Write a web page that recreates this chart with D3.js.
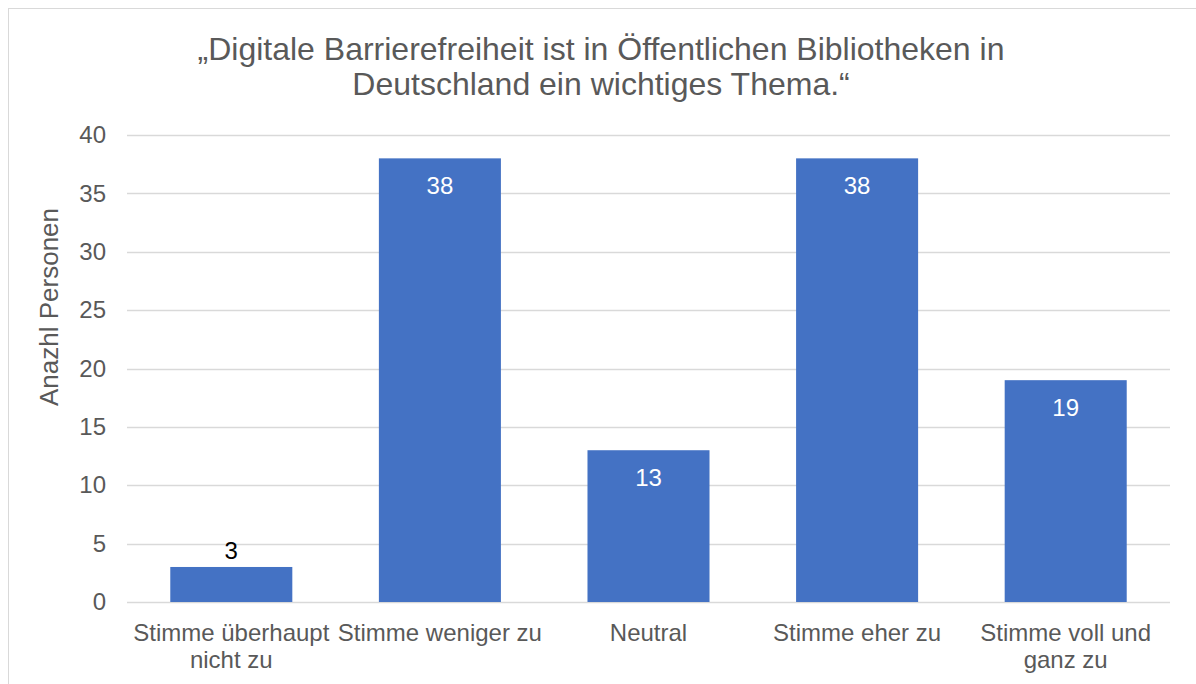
<!DOCTYPE html>
<html>
<head>
<meta charset="utf-8">
<script src="https://cdnjs.cloudflare.com/ajax/libs/d3/7.8.5/d3.min.js"></script>
<style>
  body { margin: 0; background: #fff; }
  svg { display: block; font-family: "Liberation Sans", Arial, sans-serif; }
</style>
</head>
<body>
<svg id="chart" width="1196" height="684"></svg>
<script>
const titleLines = ['„Digitale Barrierefreiheit ist in Öffentlichen Bibliotheken in', 'Deutschland ein wichtiges Thema.“'];
const categories = ['Stimme überhaupt nicht zu', 'Stimme weniger zu', 'Neutral', 'Stimme eher zu', 'Stimme voll und ganz zu'];
const values = [3, 38, 13, 38, 19];
const yTicks = [0, 5, 10, 15, 20, 25, 30, 35, 40];
const yTitle = 'Anazhl Personen';

const MARGIN = { top: 135, bottom: 82, left: 127, right: 26 };
const W = 1196, H = 684;
const GRAY = '#595959';
const BLUE = '#4472C4';
const FONT = 24;

const svg = d3.select('#chart');

// chart frame
svg.append('rect')
    .attr('x', 8.5).attr('y', 8.5)
    .attr('width', W).attr('height', H)
    .attr('fill', 'none').attr('stroke', '#d9d9d9');

const x = d3.scaleBand()
    .domain(categories)
    .range([MARGIN.left, W - MARGIN.right])
    .paddingInner(0.415).paddingOuter(0.2075);

const y = d3.scaleLinear()
    .domain([0, 40])
    .range([H - MARGIN.bottom, MARGIN.top]);

// gridlines
svg.append('g')
    .selectAll('line')
    .data(yTicks)
    .join('line')
    .attr('x1', MARGIN.left).attr('x2', W - MARGIN.right)
    .attr('y1', d => Math.round(y(d)) + 0.5).attr('y2', d => Math.round(y(d)) + 0.5)
    .attr('stroke', '#d9d9d9').attr('stroke-width', 1.3);

// y axis labels
const yAxis = svg.append('g')
    .attr('transform', `translate(${MARGIN.left - 21},0)`)
    .call(d3.axisLeft(y).tickValues(yTicks).tickSize(0).tickPadding(0));
yAxis.select('.domain').remove();
yAxis.selectAll('text')
    .attr('fill', GRAY)
    .attr('font-size', FONT)
    .attr('font-family', '"Liberation Sans", Arial, sans-serif');

// bars
svg.append('g')
    .selectAll('rect')
    .data(values)
    .join('rect')
    .attr('x', (d, i) => x(categories[i]))
    .attr('y', d => y(d))
    .attr('width', x.bandwidth())
    .attr('height', d => y(0) - y(d))
    .attr('fill', BLUE);

// data labels
svg.append('g')
    .selectAll('text')
    .data(values)
    .join('text')
    .attr('x', (d, i) => x(categories[i]) + x.bandwidth() / 2)
    .attr('y', d => d < 5 ? y(d) - 8 : y(d) + 36)
    .attr('text-anchor', 'middle')
    .attr('font-size', FONT)
    .attr('fill', d => d < 5 ? '#000' : '#fff')
    .text(d => d);

// category labels with wrapping
const xLabels = svg.append('g')
    .selectAll('text')
    .data(categories)
    .join('text')
    .attr('x', d => x(d) + x.bandwidth() / 2)
    .attr('y', y(0) + 39)
    .attr('text-anchor', 'middle')
    .attr('font-size', FONT)
    .attr('fill', GRAY);

xLabels.each(function (d) {
    const t = d3.select(this);
    const words = d.split(' ');
    const maxW = x.step();
    let line = [];
    let lines = [];
    const probe = t.append('tspan');
    words.forEach(w => {
        const test = line.concat(w).join(' ');
        probe.text(test);
        if (probe.node().getComputedTextLength() > maxW && line.length) {
            lines.push(line.join(' '));
            line = [w];
        } else {
            line.push(w);
        }
    });
    lines.push(line.join(' '));
    probe.remove();
    lines.forEach((l, i) => {
        t.append('tspan')
            .attr('x', t.attr('x'))
            .attr('dy', i === 0 ? 0 : 27)
            .text(l);
    });
});

// y axis title (centred on the whole chart height, like the original)
svg.append('text')
    .attr('transform', `translate(58, 307) rotate(-90)`)
    .attr('text-anchor', 'middle')
    .attr('font-size', 26)
    .attr('fill', GRAY)
    .text(yTitle);

// title
svg.append('g')
    .selectAll('text')
    .data(titleLines)
    .join('text')
    .attr('x', 601)
    .attr('y', (d, i) => 60 + i * 35)
    .attr('text-anchor', 'middle')
    .attr('font-size', 32)
    .attr('fill', GRAY)
    .text(d => d);
</script>
</body>
</html>
